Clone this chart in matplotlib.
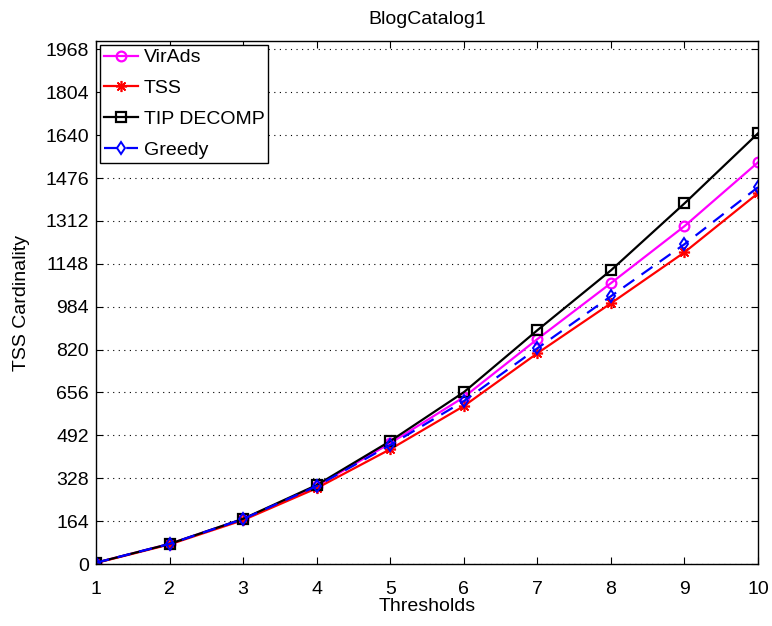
import numpy as np
import matplotlib
matplotlib.use('Agg')
import matplotlib.pyplot as plt

plt.rcParams['font.family'] = ['Liberation Sans', 'DejaVu Sans']

thresholds = [1, 2, 3, 4, 5, 6, 7, 8, 9, 10]
virads = [5, 77, 172, 298, 462, 638, 860, 1074, 1292, 1536]
tss = [4, 75, 168, 290, 439, 604, 806, 997, 1192, 1418]
tip_decomp = [5, 77, 173, 302, 470, 657, 894, 1123, 1379, 1647]
greedy = [5, 77, 172, 298, 455, 623, 825, 1024, 1223, 1441]

y_ticks = [0, 164, 328, 492, 656, 820, 984, 1148, 1312, 1476, 1640, 1804, 1968]

fig = plt.figure(figsize=(7.72, 6.26), dpi=100)
ax = fig.add_axes([0.1244, 0.099, 0.8575, 0.8355])

ax.plot(thresholds, virads, '-o', color='#ff00ff', lw=1.6, ms=7,
        mfc='none', mew=1.6, label='VirAds')
ax.plot(thresholds, tss, '-', marker=(8, 2, 0), color='#ff0000', lw=1.6,
        ms=8, mew=1.2, label='TSS')
ax.plot(thresholds, tip_decomp, '-s', color='black', lw=1.6, ms=6.5,
        mfc='none', mew=1.6, label='TIP DECOMP')
ax.plot(thresholds, greedy, '--d', color='#0000ff', lw=1.6, ms=6,
        mfc='none', mew=1.4, dashes=(6, 4), label='Greedy')

ax.set_xlim(1, 10)
ax.set_ylim(0, 2000)
ax.set_xticks(thresholds)
ax.set_yticks(y_ticks)
ax.yaxis.grid(True, linestyle=(0, (1, 4)), color='black', lw=0.8)
ax.tick_params(direction='in', top=True, right=True, labelsize=14, length=5)
ax.tick_params(axis='x', pad=12)
ax.tick_params(axis='y', pad=5)
for s in ax.spines.values():
    s.set_linewidth(1.0)

ax.set_title('BlogCatalog1', fontsize=14, pad=12)
ax.set_xlabel('Thresholds', fontsize=14, labelpad=0)
ax.set_ylabel('TSS Cardinality', fontsize=14, labelpad=11)

leg = ax.legend(loc='upper left', fontsize=14, handlelength=1.75,
                handletextpad=0.3, borderaxespad=0.2, borderpad=0.2,
                labelspacing=0.68, fancybox=False, framealpha=1)
leg.get_frame().set_edgecolor('black')
leg.get_frame().set_linewidth(1.0)

plt.savefig('out.png', dpi=100)
